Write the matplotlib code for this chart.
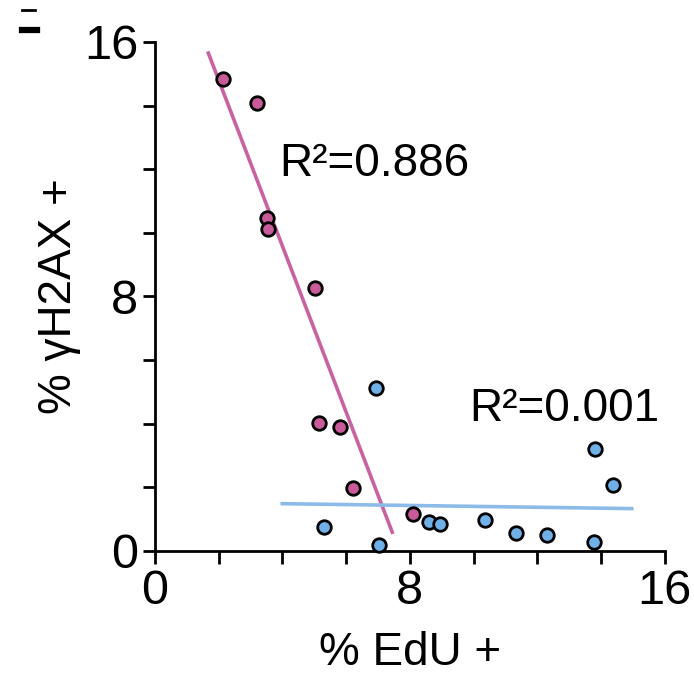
import numpy as np
import matplotlib.pyplot as plt
from matplotlib.lines import Line2D
from matplotlib.ticker import MultipleLocator

plt.rcParams['font.family'] = ['Liberation Sans', 'DejaVu Sans']

# --- data ---
edu_mag = [2.13, 3.20, 3.52, 3.54, 5.02, 5.15, 5.81, 6.23, 8.11]
h2ax_mag = [14.83, 14.09, 10.46, 10.12, 8.25, 4.03, 3.90, 1.98, 1.16]

edu_blue = [6.95, 5.31, 7.03, 8.59, 8.94, 10.37, 11.34, 12.31, 13.77, 13.80, 14.37]
h2ax_blue = [5.11, 0.76, 0.20, 0.91, 0.85, 0.96, 0.55, 0.50, 0.27, 3.19, 2.07]

fit_range_mag = [1.68, 7.45]
fit_range_blue = [4.0, 14.96]

r2_labels = ['R\u00b2=0.886', 'R\u00b2=0.001']

mag_fill = '#c95b9a'
mag_line = '#c862a0'
blue_fill = '#6fb0e8'
blue_line = '#8cbbe9'

fig = plt.figure(figsize=(6.94, 6.76), dpi=100)
ax = fig.add_axes([0.223, 0.185, 0.735, 0.753])

# regression lines (least squares on each group)
for xs, ys, rng, col in [(edu_mag, h2ax_mag, fit_range_mag, mag_line),
                         (edu_blue, h2ax_blue, fit_range_blue, blue_line)]:
    k, b = np.polyfit(xs, ys, 1)
    xx = np.array(rng)
    ax.plot(xx, k * xx + b, color=col, lw=2.6, zorder=2)

ax.scatter(edu_mag, h2ax_mag, s=95, c=mag_fill, edgecolors='black', linewidths=2, zorder=3, clip_on=False)
ax.scatter(edu_blue, h2ax_blue, s=95, c=blue_fill, edgecolors='black', linewidths=2, zorder=3, clip_on=False)

ax.text(3.9, 11.8, r2_labels[0], fontsize=33)
ax.text(9.85, 4.1, r2_labels[1], fontsize=33)

ax.set_xlim(0, 16)
ax.set_ylim(0, 16)
ax.xaxis.set_major_locator(MultipleLocator(8))
ax.yaxis.set_major_locator(MultipleLocator(8))
ax.xaxis.set_minor_locator(MultipleLocator(2))
ax.yaxis.set_minor_locator(MultipleLocator(2))
ax.tick_params(which='both', direction='out', width=2, length=9, labelsize=35, colors='black')
ax.tick_params(axis='x', pad=4)
ax.tick_params(axis='y', pad=3)

for side in ['top', 'right']:
    ax.spines[side].set_visible(False)
for side in ['left', 'bottom']:
    ax.spines[side].set_linewidth(2)

ax.set_xlabel('% EdU +', fontsize=33, labelpad=12)
ax.set_ylabel('% \u03b3H2AX +', fontsize=33, labelpad=2)

# cropped panel marks at top-left
fig.add_artist(Line2D([0.032, 0.05], [0.985, 0.985], color='black', lw=2))
fig.add_artist(Line2D([0.032, 0.053], [0.955, 0.955], color='black', lw=4.5))

fig.savefig('out.png', dpi=100)
